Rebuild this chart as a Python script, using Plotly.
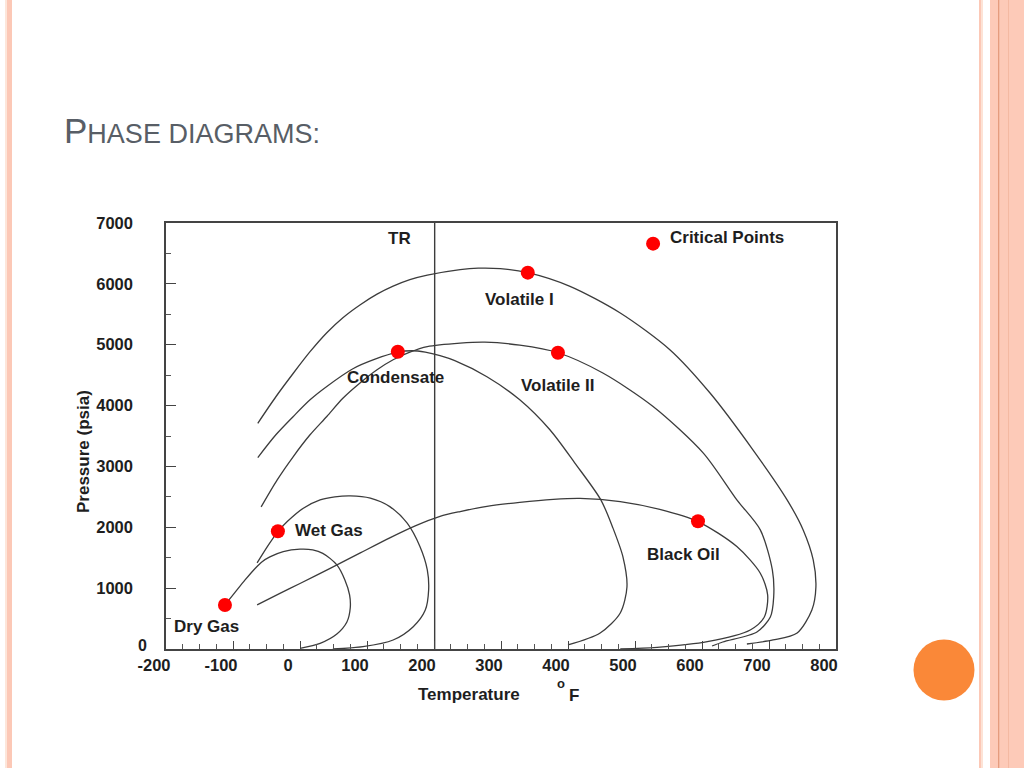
import plotly.graph_objects as go

# ---------------- data (Temperature °F, Pressure psia) ----------------
dry_T = [-112, -97, -82, -67, -57, -45, -25, 0, 19, 34, 55, 67, 74, 75, 70, 55, 30, 0]
dry_P = [724, 929, 1135, 1324, 1431, 1513, 1600, 1640, 1628, 1571, 1382, 1135, 888, 674, 444, 247, 94, 12]

wet_T = [-64, -48, -33, -19, 5, 30, 52, 75, 105, 134, 160, 179, 190, 192, 187, 169, 139, 94, 49]
wet_P = [1414, 1694, 1929, 2094, 2314, 2451, 2500, 2516, 2479, 2340, 2067, 1683, 1299, 970, 641, 367, 148, 38, 0]

black_T = [-64, -30, 0, 45, 90, 134, 172, 209, 239, 279, 328, 378, 418, 478, 537, 594, 652, 687,
           698, 693, 672, 608, 533, 478]
black_P = [724, 913, 1077, 1324, 1579, 1826, 2023, 2179, 2258, 2344, 2410, 2459, 2475, 2423, 2294,
           2094, 1683, 1245, 888, 526, 313, 120, 28, 0]

cond_T = [-63, -36, -10, 15, 40, 79, 112, 146, 167, 187, 209, 231, 279, 328, 373, 410, 449, 467,
          482, 488, 478, 448, 400]
cond_P = [3146, 3520, 3821, 4095, 4314, 4605, 4762, 4877, 4901, 4877, 4819, 4737, 4474, 4095, 3602,
          3059, 2451, 1990, 1513, 1020, 592, 263, 66]

vol2_T = [-58, -34, -10, 15, 40, 64, 90, 115, 139, 164, 190, 239, 276, 328, 385, 452, 527, 602,
          652, 687, 705, 707, 702, 682, 631, 615]
vol2_P = [2336, 2780, 3163, 3520, 3821, 4120, 4375, 4589, 4753, 4877, 4967, 5025, 5041, 4992, 4868,
          4535, 3985, 3219, 2451, 1957, 1299, 855, 526, 280, 115, 49]

vol1_T = [-63, -36, -10, 15, 40, 64, 90, 115, 139, 164, 190, 239, 266, 299, 340, 403, 478, 552,
          612, 676, 727, 751, 766, 770, 764, 742, 706, 667]
vol1_P = [3709, 4145, 4531, 4885, 5197, 5444, 5658, 5831, 5962, 6069, 6143, 6234, 6258, 6250, 6184,
          5959, 5521, 4918, 4206, 3273, 2451, 1957, 1464, 1020, 641, 263, 148, 82]

crit_T = [-112, -33, 146, 340, 385, 594]
crit_P = [724, 1935, 4885, 6184, 4868, 2100]

legend_T = [527]
legend_P = [6661]

tr_T = [201, 201]
tr_P = [0, 7000]

x_ticks = [-200, -100, 0, 100, 200, 300, 400, 500, 600, 700, 800]
x_ticktext = ["-200", "-100", "0", "100", "200", "300", "400", "500", "600", "700", "800"]
y_ticks = [0, 1000, 2000, 3000, 4000, 5000, 6000, 7000]
y_ticktext = ["", "1000", "2000", "3000", "4000", "5000", "6000", "7000"]

labels = [
    ("TR", 149, 6743, "center"),
    ("Critical Points", 549, 6760, "left"),
    ("Volatile I", 328, 5740, "center"),
    ("Condensate", 142, 4457, "center"),
    ("Volatile II", 384, 4326, "center"),
    ("Wet Gas", -10, 1941, "left"),
    ("Black Oil", 573, 1546, "center"),
    ("Dry Gas", -139, 362, "center"),
]

# ---------------- figure ----------------
W, H = 1024, 768
L, R, T, B = 166, 836, 223, 649

def px(xp):
    return (xp - L) / (R - L)

def py(yp):
    return (B - yp) / (B - T)

LINE = dict(color="#3c3c3c", width=1.3)
fig = go.Figure()
for xs, ys in [(dry_T, dry_P), (wet_T, wet_P), (black_T, black_P),
               (cond_T, cond_P), (vol2_T, vol2_P), (vol1_T, vol1_P)]:
    fig.add_trace(go.Scatter(x=xs, y=ys, mode="lines", line=dict(shape="spline", smoothing=0.8, **LINE),
                             hoverinfo="skip", showlegend=False))
fig.add_trace(go.Scatter(x=tr_T, y=tr_P, mode="lines", line=dict(color="#3c3c3c", width=1.4),
                         showlegend=False, hoverinfo="skip"))
fig.add_trace(go.Scatter(x=crit_T + legend_T, y=crit_P + legend_P, mode="markers",
                         marker=dict(color="#ff0000", size=14, line=dict(width=0)),
                         showlegend=False, cliponaxis=False, hoverinfo="skip"))

LBL_FONT = dict(family="Liberation Sans, Arial, sans-serif", size=17, color="#1e1e1e", weight="bold")
ann = []
for txt, x, y, anc in labels:
    ann.append(dict(x=x, y=y, xref="x", yref="y", text=txt, showarrow=False,
                    xanchor=anc, yanchor="middle", font=LBL_FONT))
# axis titles / extra tick text
ann.append(dict(x=px(142), y=py(645), xref="paper", yref="paper", text="0", showarrow=False,
                xanchor="center", yanchor="middle", borderpad=0, font=dict(LBL_FONT, size=16)))
ann.append(dict(x=px(469), y=py(694), xref="paper", yref="paper", text="Temperature", showarrow=False,
                xanchor="center", yanchor="middle", font=LBL_FONT))
ann.append(dict(x=px(561), y=py(683), xref="paper", yref="paper", text="o", showarrow=False,
                xanchor="center", yanchor="middle", font=dict(LBL_FONT, size=13)))
ann.append(dict(x=px(574), y=py(695), xref="paper", yref="paper", text="F", showarrow=False,
                xanchor="center", yanchor="middle", font=LBL_FONT))
ann.append(dict(x=px(83), y=py(452), xref="paper", yref="paper", text="Pressure (psia)", showarrow=False,
                textangle=-90, xanchor="center", yanchor="middle", font=LBL_FONT))
# slide title
ann.append(dict(x=px(62), y=py(130), xref="paper", yref="paper",
                text="<span style='font-size:35px'>P</span>HASE DIAGRAMS:", showarrow=False,
                xanchor="left", yanchor="middle",
                font=dict(family="Liberation Sans, Arial, sans-serif", size=27, color="#585e66")))

# slide decorations
shapes = []
def band(x0, x1, color):
    shapes.append(dict(type="rect", xref="paper", yref="paper", x0=px(x0), x1=px(x1),
                       y0=py(770), y1=py(-2), fillcolor=color, line=dict(width=0), layer="below"))
band(5, 7, "#fde6da")
band(7, 12, "#fcc8b6")
band(979, 981, "#fcc8b6")
band(981, 983, "#fde3d6")
band(990, 1026, "#fdcab8")
band(998, 999.3, "#e59c7e")
band(1008, 1009, "#f4b9a2")
shapes.append(dict(type="circle", xref="paper", yref="paper", x0=px(913.5), x1=px(974.5),
                   y0=py(700.5), y1=py(639.5), fillcolor="#fa8838", line=dict(width=0)))

AX_FONT = dict(family="Liberation Sans, Arial, sans-serif", size=16.5, color="#1e1e1e", weight="bold")
fig.update_layout(
    width=W, height=H,
    margin=dict(l=L, r=W - R, t=T, b=H - B),
    paper_bgcolor="white", plot_bgcolor="white",
    annotations=ann, shapes=shapes,
    showlegend=False, hovermode=False,
    xaxis=dict(range=[-200, 800], tickvals=x_ticks, ticktext=x_ticktext, ticks="inside", ticklen=8,
               tickwidth=1.2, tickcolor="#444", showline=True, linecolor="#444", linewidth=1.5,
               mirror=True, showgrid=False, zeroline=False, tickfont=AX_FONT, ticklabelshift=-12,
               minor=dict(dtick=25, ticks="inside", ticklen=5, tickwidth=1, tickcolor="#555", showgrid=False)),
    yaxis=dict(range=[0, 7000], tickvals=y_ticks, ticktext=y_ticktext, ticks="inside", ticklen=10,
               tickwidth=1.2, tickcolor="#444", showline=True, linecolor="#444", linewidth=1.5,
               mirror=True, showgrid=False, zeroline=False, tickfont=AX_FONT, ticklabelstandoff=28,
               minor=dict(dtick=500, ticks="inside", ticklen=5, tickwidth=1, tickcolor="#555", showgrid=False)),
)

fig.write_html("out.html", config={"displayModeBar": False},
               post_script="document.body.style.margin='0';"
                           "document.documentElement.style.overflow='hidden';")
